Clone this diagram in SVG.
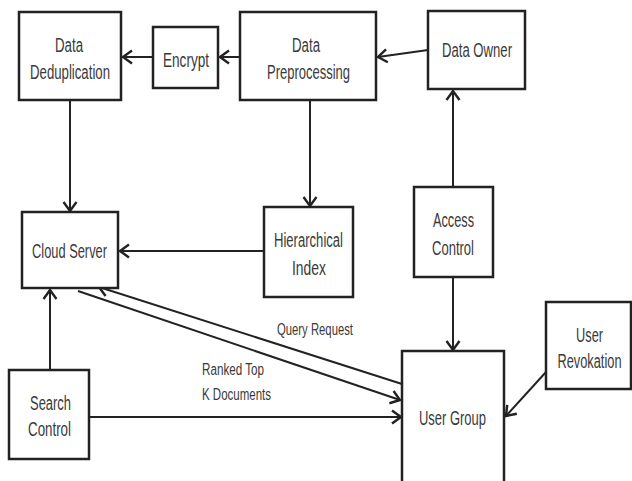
<svg xmlns="http://www.w3.org/2000/svg" width="632" height="481" viewBox="0 0 632 481">
<style>
.box{fill:#fff;stroke:#222;stroke-width:2.5}
.t{font-family:"Liberation Sans",Arial,sans-serif;font-size:20px;fill:#3a3a3a}
.s{font-family:"Liberation Sans",Arial,sans-serif;font-size:16px;fill:#3a3a3a}
.ln{fill:none;stroke:#222;stroke-width:2}
</style>
<defs>
<marker id="ah" markerUnits="userSpaceOnUse" markerWidth="20" markerHeight="20" refX="10" refY="10" orient="auto" overflow="visible">
<path d="M1,3.5 L10,10 L1,16.5" fill="none" stroke="#222" stroke-width="2.4"/>
</marker>
</defs>
<rect width="632" height="481" fill="#fff"/>
<g id="connectors">
<line class="ln" x1="153" y1="57" x2="123" y2="57" marker-end="url(#ah)"/>
<line class="ln" x1="240" y1="57" x2="220" y2="57" marker-end="url(#ah)"/>
<line class="ln" x1="428" y1="50" x2="378" y2="57" marker-end="url(#ah)"/>
<line class="ln" x1="70" y1="100" x2="70" y2="211" marker-end="url(#ah)"/>
<line class="ln" x1="310" y1="100" x2="310" y2="206" marker-end="url(#ah)"/>
<line class="ln" x1="264" y1="251" x2="120" y2="251" marker-end="url(#ah)"/>
<line class="ln" x1="453" y1="187" x2="453" y2="91" marker-end="url(#ah)"/>
<line class="ln" x1="453" y1="277" x2="453" y2="350" marker-end="url(#ah)"/>
<line class="ln" x1="50" y1="370" x2="50" y2="290" marker-end="url(#ah)"/>
<line class="ln" x1="89" y1="417" x2="401" y2="417" marker-end="url(#ah)"/>
<line class="ln" x1="402" y1="384" x2="99" y2="287" marker-end="url(#ah)"/>
<line class="ln" x1="78" y1="291" x2="400" y2="400" marker-end="url(#ah)"/>
<line class="ln" x1="546" y1="372" x2="506" y2="416" marker-end="url(#ah)"/>
<text class="s" x="277" y="335" textLength="76" lengthAdjust="spacingAndGlyphs">Query Request</text>
<text class="s" x="202" y="375" textLength="62" lengthAdjust="spacingAndGlyphs">Ranked Top</text>
<text class="s" x="202" y="400" textLength="69" lengthAdjust="spacingAndGlyphs">K Documents</text>
</g>
<g id="dedup">
<rect class="box" x="19" y="12" width="102" height="88"/>
<text class="t" x="55" y="52" textLength="28" lengthAdjust="spacingAndGlyphs">Data</text>
<text class="t" x="30" y="79" textLength="80" lengthAdjust="spacingAndGlyphs">Deduplication</text>
</g>
<g id="encrypt">
<rect class="box" x="153" y="27" width="65" height="61"/>
<text class="t" x="163" y="67" textLength="46" lengthAdjust="spacingAndGlyphs">Encrypt</text>
</g>
<g id="preprocessing">
<rect class="box" x="240" y="12" width="136" height="88"/>
<text class="t" x="292" y="52" textLength="28" lengthAdjust="spacingAndGlyphs">Data</text>
<text class="t" x="267" y="79" textLength="83" lengthAdjust="spacingAndGlyphs">Preprocessing</text>
</g>
<g id="owner">
<rect class="box" x="428" y="11" width="97" height="78"/>
<text class="t" x="442" y="57" textLength="70" lengthAdjust="spacingAndGlyphs">Data Owner</text>
</g>
<g id="cloud">
<rect class="box" x="22" y="212" width="96" height="76"/>
<text class="t" x="32" y="258" textLength="75" lengthAdjust="spacingAndGlyphs">Cloud Server</text>
</g>
<g id="index">
<rect class="box" x="264" y="207" width="89" height="90"/>
<text class="t" x="274" y="247" textLength="69" lengthAdjust="spacingAndGlyphs">Hierarchical</text>
<text class="t" x="292" y="275" textLength="34" lengthAdjust="spacingAndGlyphs">Index</text>
</g>
<g id="access">
<rect class="box" x="414" y="187" width="79" height="90"/>
<text class="t" x="433" y="227" textLength="41" lengthAdjust="spacingAndGlyphs">Access</text>
<text class="t" x="432" y="255" textLength="42" lengthAdjust="spacingAndGlyphs">Control</text>
</g>
<g id="search">
<rect class="box" x="9" y="370" width="80" height="89"/>
<text class="t" x="30" y="410" textLength="41" lengthAdjust="spacingAndGlyphs">Search</text>
<text class="t" x="28" y="436" textLength="43" lengthAdjust="spacingAndGlyphs">Control</text>
</g>
<g id="usergroup">
<rect class="box" x="402" y="351" width="102" height="133"/>
<text class="t" x="419" y="425" textLength="67" lengthAdjust="spacingAndGlyphs">User Group</text>
</g>
<g id="revokation">
<rect class="box" x="546" y="302" width="85" height="87"/>
<text class="t" x="576" y="342" textLength="27" lengthAdjust="spacingAndGlyphs">User</text>
<text class="t" transform="translate(589.5,368) scale(0.64,1)" x="0" y="0" text-anchor="middle">Revokation</text>
</g>
</svg>
